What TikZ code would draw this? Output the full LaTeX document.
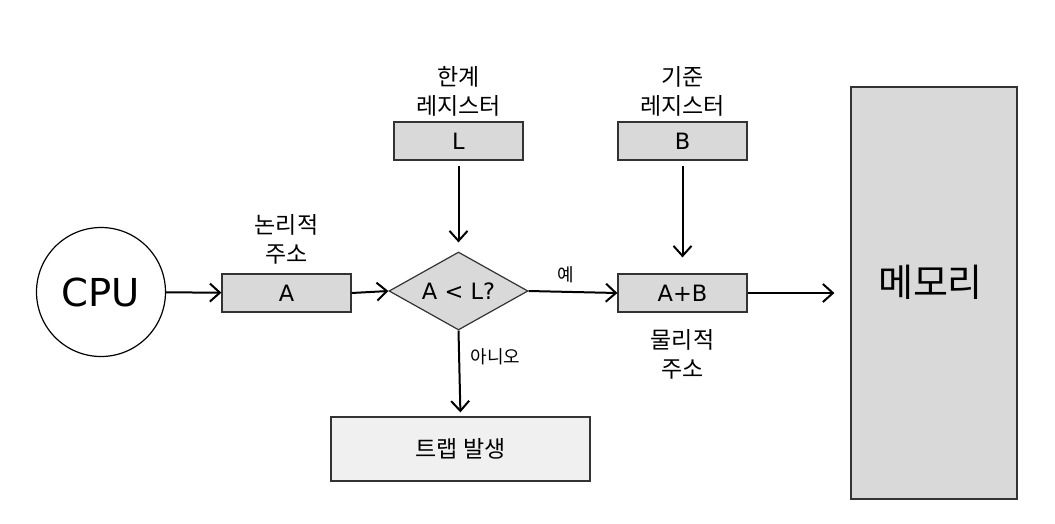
\documentclass[tikz,border=0pt]{standalone}
\usepackage{fontspec}
\setmainfont{Noto Sans CJK KR}
\newfontfamily\latinf{DejaVu Sans}
\usetikzlibrary{shapes.geometric,arrows.meta}
\definecolor{boxgray}{HTML}{D9D9D9}
\definecolor{trapgray}{HTML}{F0F0F0}
\definecolor{edgegray}{HTML}{333333}
\begin{document}
\begin{tikzpicture}[x=1pt,y=-1pt,
  box/.style={draw=edgegray, line width=1.2pt, fill=boxgray, minimum width=129pt, minimum height=38pt, inner sep=0pt, font=\latinf\fontsize{22.5}{25}\selectfont},
  lbl/.style={align=center, font=\fontsize{23}{29}\selectfont, inner sep=0pt},
  arr/.style={line width=2pt, -{Straight Barb[length=10pt,width=18pt]}},
  small/.style={font=\fontsize{18}{22}\selectfont, inner sep=0pt}]
\useasboundingbox (0,0) rectangle (1055,523);
% nodes
\node[draw=black, line width=1.2pt, fill=white, circle, minimum size=129pt, inner sep=0pt, font=\latinf\fontsize{38.5}{44}\selectfont] (cpu) at (101,292) {CPU};
\node[box] (A) at (286.5,293) {A};
\node[draw=edgegray, line width=1.2pt, fill=boxgray, diamond, shape aspect=1.78, minimum width=139pt, minimum height=78pt, inner sep=0pt, font=\latinf\fontsize{22.5}{25}\selectfont] (dec) at (458.5,291) {A < L?};
\node[box] (L) at (458.5,141) {L};
\node[box] (B) at (682.5,141) {B};
\node[box] (AB) at (682.5,293) {A+B};
\node[draw=edgegray, line width=1.2pt, fill=boxgray, minimum width=166pt, minimum height=412pt, inner sep=0pt] (mem) at (934,293) {};
\node[font=\fontsize{38}{44}\selectfont, inner sep=0pt] (memtxt) at (930.5,282) {메모리};
\node[draw=edgegray, line width=1.2pt, fill=trapgray, minimum width=259pt, minimum height=64pt, inner sep=0pt, font=\fontsize{23}{28}\selectfont] (trap) at (460.5,449) {트랩 발생};
% labels
\node[lbl] (lblL) at (458.5,91) {한계\\레지스터};
\node[lbl] (lblB) at (682.5,91) {기준\\레지스터};
\node[lbl] (lblA) at (286.5,239) {논리적\\주소};
\node[lbl] (lblAB) at (682.5,354) {물리적\\주소};
\node[small] (yes) at (566,275) {예};
\node[small] (no) at (495.5,357) {아니오};
% connectors
\draw[arr] (cpu) -- (A);
\draw[arr] (A.east) -- (dec.west);
\draw[arr, shorten <=5pt, shorten >=9pt] (L.south) -- (dec.north);
\draw[arr, shorten <=5pt, shorten >=16pt] (B.south) -- (AB.north);
\draw[arr] (dec.east) -- (AB.west);
\draw[arr, shorten >=16pt] (AB.east) -- (AB.east -| mem.west);
\draw[arr, shorten >=4pt] (dec.south) -- (trap.north);
\end{tikzpicture}
\end{document}
